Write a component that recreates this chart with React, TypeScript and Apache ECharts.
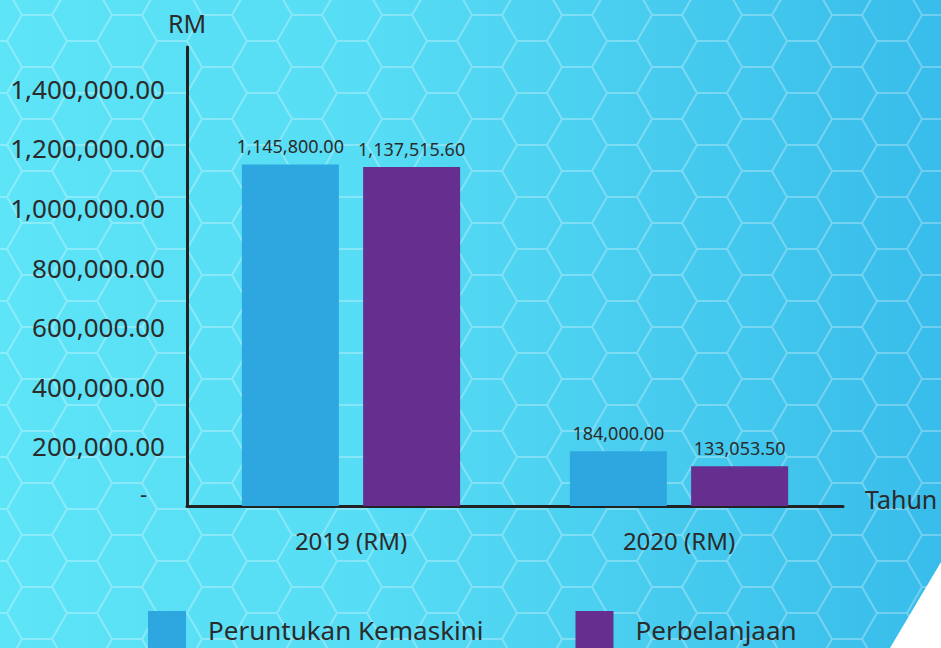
import React, { useEffect, useRef } from "react";
import * as echarts from "echarts";

const categories = ["2019 (RM)", "2020 (RM)"];
const seriesNames = ["Peruntukan Kemaskini", "Perbelanjaan"];
const peruntukan = [1145800.0, 184000.0];
const perbelanjaan = [1137515.6, 133053.5];
const yTicks = { min: 0, max: 1540000, interval: 200000 };

const FONT = "'Noto Sans', 'DejaVu Sans', sans-serif";
const TEXT = "#2b2b2b";

const fmt = (v: number) =>
  v.toLocaleString("en-US", { minimumFractionDigits: 2, maximumFractionDigits: 2 });

const hexSvg =
  "<svg xmlns='http://www.w3.org/2000/svg' width='90' height='52'><path d='M0 26H15L30 0H60L75 26H90M15 26L30 52H60L75 26' fill='none' stroke='rgba(255,255,255,0.28)' stroke-width='2'/></svg>";
const hexUrl = `url("data:image/svg+xml;utf8,${encodeURIComponent(hexSvg)}")`;

export default function App() {
  const ref = useRef<HTMLDivElement>(null);
  useEffect(() => {
    if (!ref.current) return;
    const chart = echarts.init(ref.current, null, { renderer: "svg" });
    const barLabel = {
      show: true,
      position: "top",
      distance: 9,
      fontSize: 18,
      color: TEXT,
      fontFamily: FONT,
      formatter: (p: any) => fmt(p.value),
    };
    chart.setOption({
      animation: false,
      textStyle: { fontFamily: FONT },
      grid: { left: 187, right: 98, top: 47, bottom: 142 },
      legend: {
        left: 148,
        top: 611,
        padding: 0,
        itemWidth: 38,
        itemHeight: 38,
        itemGap: 92,
        icon: "rect",
        data: seriesNames,
        textStyle: { fontSize: 26, color: TEXT, fontFamily: FONT, padding: [0, 0, 0, 17] },
      },
      xAxis: {
        type: "category",
        data: categories,
        name: "{t|Tahun}",
        nameLocation: "end",
        nameGap: 22,
        nameTextStyle: {
          fontSize: 25,
          color: TEXT,
          fontFamily: FONT,
          rich: { t: { fontSize: 25, color: TEXT, fontFamily: FONT, padding: [0, 0, 14, 0] } },
        },
        axisLine: { lineStyle: { color: "#222", width: 3 } },
        axisTick: { show: false },
        axisLabel: { fontSize: 24, color: TEXT, margin: 22, fontFamily: FONT },
      },
      yAxis: {
        type: "value",
        min: yTicks.min,
        max: yTicks.max,
        interval: yTicks.interval,
        name: "RM",
        nameLocation: "end",
        nameGap: 12,
        nameTextStyle: { fontSize: 25, color: TEXT, fontFamily: FONT, align: "center" },
        axisLine: { show: true, lineStyle: { color: "#222", width: 3 } },
        axisTick: { show: false },
        splitLine: { show: false },
        axisLabel: {
          showMaxLabel: false,
          fontSize: 26,
          color: TEXT,
          margin: 22,
          fontFamily: FONT,
          formatter: (v: number) => (v === 0 ? "{z|-}" : fmt(v)),
          rich: { z: { fontSize: 22, color: TEXT, padding: [0, 18, 26, 0] } },
        },
      },
      series: [
        {
          name: seriesNames[0],
          type: "bar",
          data: peruntukan,
          barWidth: 97,
          barGap: "25%",
          itemStyle: { color: "#2EA6E0" },
          label: barLabel,
        },
        {
          name: seriesNames[1],
          type: "bar",
          data: perbelanjaan,
          barWidth: 97,
          itemStyle: { color: "#662E8E" },
          label: barLabel,
        },
      ],
      graphic: [
        {
          type: "polygon",
          shape: { points: [[941, 562], [890, 648], [941, 648]] },
          style: { fill: "#ffffff" },
          silent: true,
        },
      ],
    });
    return () => chart.dispose();
  }, []);
  return (
    <div
      style={{
        position: "fixed",
        left: 0,
        top: 0,
        width: 941,
        height: 648,
        overflow: "hidden",
        backgroundImage: `${hexUrl}, linear-gradient(90deg, #5EE4F7 0%, #56DCF4 40%, #47CCEF 70%, #38BCEA 100%)`,
        backgroundPosition: "-8px 15px, 0 0",
        backgroundRepeat: "repeat, no-repeat",
      }}
    >
      <div ref={ref} style={{ width: 941, height: 648 }} />
    </div>
  );
}
